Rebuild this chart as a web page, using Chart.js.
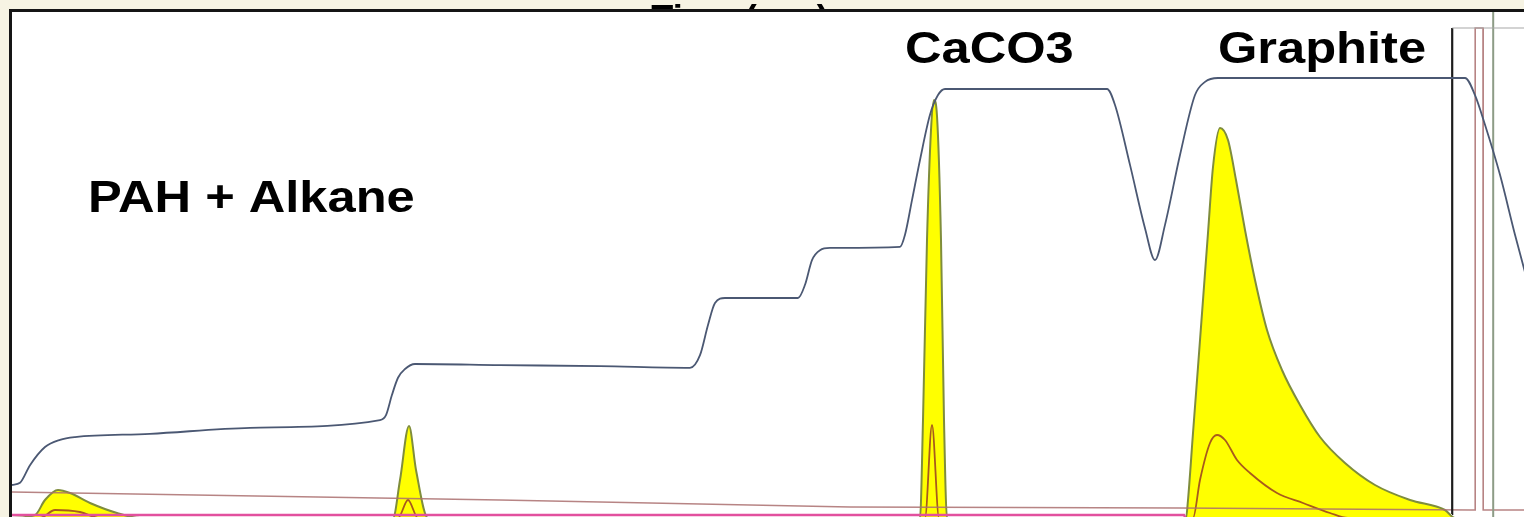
<!DOCTYPE html>
<html>
<head>
<meta charset="utf-8">
<title>Thermogram</title>
<script src="https://cdn.jsdelivr.net/npm/chart.js@4.4.1/dist/chart.umd.min.js"></script>
<style>
  html, body { margin: 0; padding: 0; overflow: hidden; background: #f6f3e3; }
  #wrap { position: absolute; left: 0; top: 0; }
</style>
</head>
<body>
<div id="wrap"><canvas id="thermo" width="1540" height="540"></canvas></div>
<script>
// ---- time axis (sec) and traces ----
const timeRange = [0, 764];
const tempRange = [0, 960];   // deg C
const sigRange = [0, 264];    // detector units

// oven temperature
const tempTime = [0, 4, 9, 16.5, 24, 31.5, 69, 119, 184, 187, 190, 193, 196.5, 201.5, 244, 294, 339, 344, 348, 351.5, 356.5,
  393, 396.5, 400, 404, 409, 444, 446.5, 450, 454, 459, 463, 466.5, 494, 547.5, 551.5, 559, 566.5, 571.5, 576.5,
  584, 591.5, 596.5, 603, 726.5, 731.5, 736.5, 744, 751.5, 756.5, 764];
const tempVals = [100, 104, 136, 169, 182, 187, 193, 204, 218, 227, 264, 295, 311, 320, 318, 316, 313, 336, 391, 431, 440,
  440, 464, 509, 527, 531, 533, 555, 618, 691, 773, 809, 820, 820, 820, 791, 682, 567, 509, 573,
  700, 809, 833, 840, 840, 809, 755, 664, 555, 487, 382];

// FID signal
const fidTime = [0, 11.5, 16.5, 23, 29, 39, 52.5, 64, 190.5, 194, 198.5, 202, 208,
  454, 455.5, 457.5, 459.5, 461, 462.5, 464.5, 466, 467.5,
  587, 588, 590.5, 593, 595.5, 598, 600.5, 604, 608, 612, 616.5, 621.5, 627.5, 635, 644, 654, 666.5,
  681.5, 699, 716.5, 721.5, 764];
const fidVals = [11, 12.5, 20, 25, 23.5, 18.5, 13.5, 11, 11, 30, 57, 35, 11,
  11, 60, 150, 205, 220, 212, 150, 60, 11,
  11, 20, 53.5, 86.5, 120, 153.5, 186.5, 206, 200, 180, 155, 130, 105, 85, 67.5, 51.5, 38.5,
  27.5, 20, 15, 11, 11];

// CO2 / second detector trace
const co2Time = [0, 14, 21.5, 34, 44, 193, 198, 203, 456.5, 460, 463.5,
  590.5, 594, 599, 602.5, 606.5, 612.5, 619, 632.5, 645.5, 659, 668, 764];
const co2Vals = [11, 11, 15, 14, 11, 11, 20, 11, 11, 57.5, 11,
  11, 30, 48.5, 52.5, 50, 40, 33.5, 23.5, 18.5, 13.5, 11, 11];

// laser transmittance
const laserTime = [0, 244, 419, 584, 729, 731.5, 731.6, 735.5, 735.6, 764];
const laserVals = [24, 20, 16.5, 16, 15, 15, 256, 256, 15, 15];

// baseline / pressure traces
const baseTime = [0, 586, 590];
const baseVals = [12.5, 12.5, 4];
const markTime = [720, 720.1, 764];
const markVals = [13, 256, 256];
const refTime = [740.5, 740.6];
const refVals = [10, 264];

const regionLabels = [
  { text: 'PAH + Alkane', t: 38, v: 164 },
  { text: 'CaCO3', t: 446.5, v: 238.5 },
  { text: 'Graphite', t: 603, v: 238.5 }
];

const pts = (xs, ys) => xs.map((x, i) => ({ x: x, y: ys[i] }));

// cream page, axis title, white plot, frame, region labels
const framePlugin = {
  id: 'frame',
  beforeDraw(chart) {
    const { ctx, chartArea } = chart;
    ctx.save();
    ctx.fillStyle = '#f6f3e3';
    ctx.fillRect(0, 0, chart.width, chart.height);

    // axis title mostly tucked behind the plot area
    ctx.fillStyle = '#000';
    ctx.font = 'bold 36px "Liberation Sans", Arial, sans-serif';
    ctx.textAlign = 'center';
    ctx.textBaseline = 'alphabetic';
    ctx.fillText('Time (sec)', 740, 31);

    ctx.fillStyle = '#ffffff';
    ctx.fillRect(chartArea.left, chartArea.top, chartArea.right - chartArea.left, chartArea.bottom - chartArea.top);
    ctx.restore();
  },
  afterDraw(chart) {
    const { ctx, chartArea, scales } = chart;
    ctx.save();
    ctx.strokeStyle = '#151515';
    ctx.lineWidth = 3;
    ctx.beginPath();
    ctx.moveTo(chartArea.left - 1.5, chart.height);
    ctx.lineTo(chartArea.left - 1.5, chartArea.top - 1.5);
    ctx.lineTo(chart.width, chartArea.top - 1.5);
    ctx.stroke();

    ctx.fillStyle = '#000';
    ctx.textAlign = 'left';
    ctx.textBaseline = 'alphabetic';
    ctx.font = 'bold 44px "Liberation Sans", Arial, sans-serif';
    regionLabels.forEach(l => {
      const x = scales.x.getPixelForValue(l.t);
      const y = scales.sig.getPixelForValue(l.v);
      ctx.save();
      ctx.translate(x, y);
      ctx.scale(1.15, 1);
      ctx.fillText(l.text, 0, 0);
      ctx.restore();
    });
    ctx.restore();
  }
};

const line = (data, color, width, axis, extra) => Object.assign({
  data: data,
  borderColor: color,
  borderWidth: width,
  yAxisID: axis,
  pointRadius: 0,
  fill: false,
  tension: 0
}, extra || {});

new Chart(document.getElementById('thermo'), {
  type: 'line',
  data: {
    datasets: [
      line(pts(tempTime, tempVals), '#4b5873', 1.8, 'temp', { label: 'Temperature', cubicInterpolationMode: 'monotone' }),
      line(pts(markTime, markVals), '#1c1c1c', 2.2, 'sig', {
        label: 'Pressure',
        // off-scale part runs along the top as a faint line
        segment: { borderColor: c => (c.p0.parsed.y > 200 && c.p1.parsed.y > 200 ? '#a8a8a8' : undefined),
                   borderWidth: c => (c.p0.parsed.y > 200 && c.p1.parsed.y > 200 ? 1.2 : undefined) }
      }),
      line(pts(refTime, refVals), '#8d9c86', 2, 'sig', { label: 'Reference' }),
      line(pts(laserTime, laserVals), 'rgba(170, 110, 110, 0.85)', 1.6, 'sig', { label: 'Laser' }),
      line(pts(baseTime, baseVals), '#e2509e', 2.4, 'sig', { label: 'Baseline' }),
      line(pts(co2Time, co2Vals), '#a85a1c', 1.8, 'sig', { label: 'CO2', cubicInterpolationMode: 'monotone' }),
      line(pts(fidTime, fidVals), '#7f8d3c', 2, 'sig', {
        label: 'FID',
        fill: 'start',
        backgroundColor: '#ffff00',
        cubicInterpolationMode: 'monotone'
      })
    ]
  },
  options: {
    responsive: false,
    animation: false,
    layout: { padding: { left: 12, top: 12, right: 0, bottom: 0 } },
    plugins: {
      legend: { display: false },
      tooltip: { enabled: false }
    },
    scales: {
      x: { type: 'linear', min: timeRange[0], max: timeRange[1], display: false, title: { text: 'Time (sec)' } },
      temp: { type: 'linear', position: 'left', min: tempRange[0], max: tempRange[1], display: false },
      sig: { type: 'linear', position: 'right', min: sigRange[0], max: sigRange[1], display: false }
    }
  },
  plugins: [framePlugin]
});
</script>
</body>
</html>
